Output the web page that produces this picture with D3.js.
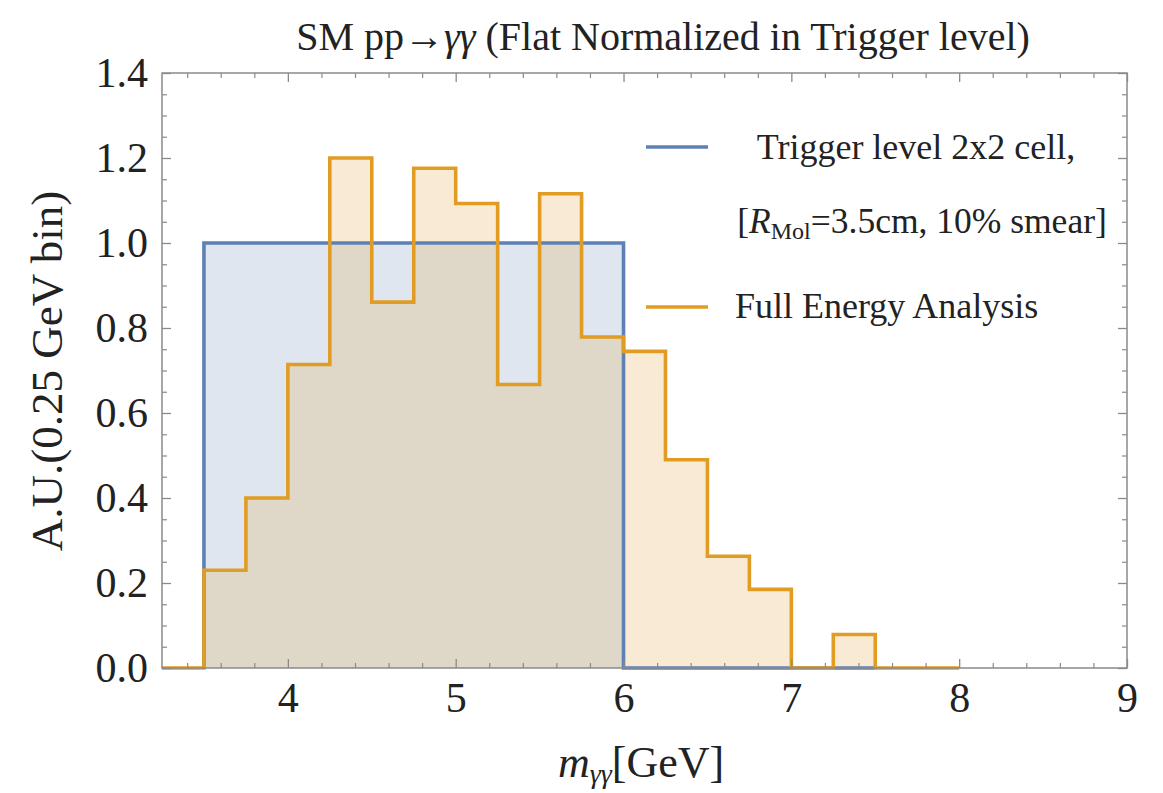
<!DOCTYPE html>
<html>
<head>
<meta charset="utf-8">
<script src="https://cdn.jsdelivr.net/npm/d3@7"></script>
<style>
  html, body { margin: 0; padding: 0; background: #fff; }
  svg { display: block; }
  text { font-family: "Liberation Serif", "Times New Roman", serif; fill: #222; }
</style>
</head>
<body>
<svg id="chart" width="1163" height="793"></svg>
<script>
// Bin edges (0.25 GeV) and normalized counts per bin
const fullEdges = [3.25, 3.5, 3.75, 4.0, 4.25, 4.5, 4.75, 5.0, 5.25, 5.5, 5.75,
                   6.0, 6.25, 6.5, 6.75, 7.0, 7.25, 7.5, 7.75, 8.0];
const fullValues = [0, 0.23, 0.40, 0.714, 1.20, 0.861, 1.176, 1.093, 0.667, 1.116,
                    0.779, 0.745, 0.49, 0.263, 0.185, 0, 0.079, 0, 0];
const trigEdges = [3.5, 6.0, 7.5];
const trigValues = [1.0, 0];

const xTicks = [4, 5, 6, 7, 8, 9];
const yTicks = [0, 0.2, 0.4, 0.6, 0.8, 1.0, 1.2, 1.4];

const legendEntries = ["Trigger level 2x2 cell,", "Full Energy Analysis"];

const blue = "#5e81b5", orange = "#e19c24";
const serif = "Liberation Serif";

const svg = d3.select("#chart");
const x = d3.scaleLinear().domain([3.25, 9.0]).range([162, 1127]);
const y = d3.scaleLinear().domain([0, 1.4]).range([668, 73]);

// Step outline points for a histogram
function stepPoints(edges, vals) {
  const pts = [[edges[0], 0]];
  vals.forEach((v, i) => { pts.push([edges[i], v]); pts.push([edges[i + 1], v]); });
  return pts;
}
const line = d3.line().x(d => x(d[0])).y(d => y(d[1]));
const area = d3.area().x(d => x(d[0])).y0(y(0)).y1(d => y(d[1]));

const trigPts = stepPoints(trigEdges, trigValues);
const fullPts = stepPoints(fullEdges, fullValues);

// Translucent fills first, then both outlines
svg.append("path").attr("d", area(trigPts)).attr("fill", blue).attr("fill-opacity", 0.2);
svg.append("path").attr("d", area(fullPts)).attr("fill", orange).attr("fill-opacity", 0.2);
svg.append("path").attr("d", line(trigPts)).attr("fill", "none").attr("stroke", blue)
  .attr("stroke-width", 3.6).attr("stroke-linejoin", "miter");
svg.append("path").attr("d", line(fullPts)).attr("fill", "none").attr("stroke", orange)
  .attr("stroke-width", 3.6).attr("stroke-linejoin", "miter");

// Frame with inward ticks on all four sides
const frameColor = "#8a8a8a";
const [x0, x1] = x.range(), [yb, yt] = y.range();
svg.append("rect").attr("x", x0).attr("y", yt).attr("width", x1 - x0).attr("height", yb - yt)
  .attr("fill", "none").attr("stroke", frameColor).attr("stroke-width", 1.5);

const xMinor = d3.range(3.4, 9.0001, 0.2).filter(v => Math.abs(v - Math.round(v)) > 1e-6);
const yMinor = d3.range(0, 1.4001, 0.05).filter(v => !yTicks.some(t => Math.abs(t - v) < 1e-6));

function styleTicks(g, w) {
  g.select(".domain").remove();
  g.selectAll("line").attr("stroke", frameColor).attr("stroke-width", w);
}

svg.append("g").attr("transform", `translate(0,${yb})`)
  .call(d3.axisBottom(x).tickValues(xTicks).tickSize(-9).tickFormat(d3.format("d")).tickPadding(14))
  .call(g => styleTicks(g, 1.3))
  .call(g => g.selectAll("text").attr("font-size", 42).attr("fill", "#222").attr("font-family", serif));
svg.append("g").attr("transform", `translate(0,${yb})`)
  .call(d3.axisBottom(x).tickValues(xMinor).tickSize(-5).tickFormat(""))
  .call(g => styleTicks(g, 1.2));
svg.append("g").attr("transform", `translate(0,${yt})`)
  .call(d3.axisTop(x).tickValues(xTicks).tickSize(-9).tickFormat(""))
  .call(g => styleTicks(g, 1.3));
svg.append("g").attr("transform", `translate(0,${yt})`)
  .call(d3.axisTop(x).tickValues(xMinor).tickSize(-5).tickFormat(""))
  .call(g => styleTicks(g, 1.2));

svg.append("g").attr("transform", `translate(${x0},0)`)
  .call(d3.axisLeft(y).tickValues(yTicks).tickSize(-9).tickFormat(d3.format(".1f")).tickPadding(14))
  .call(g => styleTicks(g, 1.3))
  .call(g => g.selectAll("text").attr("font-size", 42).attr("fill", "#222").attr("font-family", serif));
svg.append("g").attr("transform", `translate(${x0},0)`)
  .call(d3.axisLeft(y).tickValues(yMinor).tickSize(-5).tickFormat(""))
  .call(g => styleTicks(g, 1.2));
svg.append("g").attr("transform", `translate(${x1},0)`)
  .call(d3.axisRight(y).tickValues(yTicks).tickSize(-9).tickFormat(""))
  .call(g => styleTicks(g, 1.3));
svg.append("g").attr("transform", `translate(${x1},0)`)
  .call(d3.axisRight(y).tickValues(yMinor).tickSize(-5).tickFormat(""))
  .call(g => styleTicks(g, 1.2));

// Title
const title = svg.append("text").attr("x", 663).attr("y", 50).attr("text-anchor", "middle")
  .attr("font-size", 40);
title.append("tspan").text("SM pp\u2192");
title.append("tspan").attr("font-style", "italic").text("\u03b3\u03b3");
title.append("tspan").text(" (Flat Normalized in Trigger level)");

// Axis labels
const xl = svg.append("text").attr("x", 641).attr("y", 777).attr("text-anchor", "middle")
  .attr("font-size", 44);
xl.append("tspan").attr("font-style", "italic").text("m");
xl.append("tspan").attr("font-style", "italic").attr("font-size", 28).attr("dy", 6).text("\u03b3\u03b3");
xl.append("tspan").attr("dy", -6).text("[GeV]");

svg.append("text").attr("transform", "translate(62,371) rotate(-90)").attr("text-anchor", "middle")
  .attr("font-size", 45).text("A.U.(0.25 GeV bin)");

// Legend
svg.append("line").attr("x1", 646).attr("x2", 708).attr("y1", 147).attr("y2", 147)
  .attr("stroke", blue).attr("stroke-width", 3.6);
svg.append("text").attr("x", 916).attr("y", 159).attr("text-anchor", "middle")
  .attr("font-size", 36).text(legendEntries[0]);
const l2 = svg.append("text").attr("x", 922).attr("y", 233).attr("text-anchor", "middle")
  .attr("font-size", 35.5);
l2.append("tspan").text("[");
l2.append("tspan").attr("font-style", "italic").text("R");
l2.append("tspan").attr("font-size", 24).attr("dy", 6).text("Mol");
l2.append("tspan").attr("dy", -6).text("=3.5cm, 10% smear]");

svg.append("line").attr("x1", 646).attr("x2", 708).attr("y1", 307).attr("y2", 307)
  .attr("stroke", orange).attr("stroke-width", 3.6);
svg.append("text").attr("x", 735).attr("y", 318).attr("font-size", 36).text(legendEntries[1]);
</script>
</body>
</html>
